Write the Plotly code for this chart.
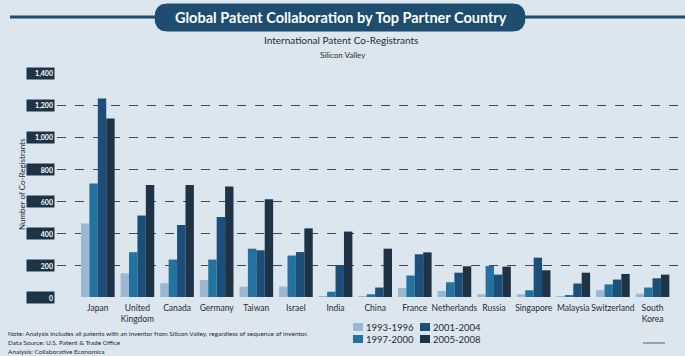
import plotly.graph_objects as go

countries = ["Japan", "United<br>Kingdom", "Canada", "Germany", "Taiwan", "Israel", "India", "China",
             "France", "Netherlands", "Russia", "Singapore", "Malaysia", "Switzerland", "South<br>Korea"]
periods = ["1993-1996", "1997-2000", "2001-2004", "2005-2008"]
v1993 = [460, 148, 86, 106, 65, 65, 4, 4, 56, 38, 17, 17, 3, 42, 21]
v1997 = [710, 280, 234, 234, 302, 259, 33, 17, 134, 92, 194, 42, 10, 79, 59]
v2001 = [1240, 509, 450, 500, 292, 281, 200, 59, 267, 152, 140, 246, 84, 109, 117]
v2005 = [1115, 700, 700, 690, 611, 429, 409, 302, 279, 192, 190, 167, 152, 144, 140]
series = [v1993, v1997, v2001, v2005]
colors = ["#9ab9d0", "#2472a0", "#1b4f79", "#1e3446"]
yticks = [0, 200, 400, 600, 800, 1000, 1200, 1400]
ytick_text = ["0", "200", "400", "600", "800", "1,000", "1,200", "1,400"]

W, H = 685, 356
L, R, T, B = 57, 0, 73, 59
pw = W - L - R
ph = H - T - B

def px2paper_x(px):
    return (px - L) / pw

def py2paper_y(py):
    return (H - B - py) / ph

FONT = "Lato"
TXT = "#1e2a36"
fig = go.Figure()
for i, (name, vals) in enumerate(zip(periods, series)):
    fig.add_trace(go.Bar(
        x=list(range(len(countries))), y=vals, name=name,
        marker=dict(color=colors[i], line=dict(width=0)),
    ))

fig.update_layout(
    width=W, height=H,
    margin=dict(l=L, r=R, t=T, b=B, autoexpand=False),
    paper_bgcolor="#dce6ee", plot_bgcolor="#dce6ee",
    barmode="group", bargap=0.15, bargroupgap=0,
    font=dict(family=FONT, color=TXT),
    showlegend=False,
    xaxis=dict(range=[-1.03, 14.82], tickvals=list(range(len(countries))), ticktext=countries,
               showgrid=False, zeroline=False, showline=False, ticks="", ticklabelstandoff=4,
               tickangle=0, automargin=False, tickfont=dict(size=8.5, color=TXT, family=FONT)),
    yaxis=dict(range=[0, 1400], tickvals=yticks, showticklabels=False, showgrid=True,
               gridcolor="#3a4a5a", griddash="dash", gridwidth=1, zeroline=False, showline=False),
)

# y tick label boxes
for v, t in zip(yticks, ytick_text):
    fig.add_annotation(xref="paper", yref="y", x=px2paper_x(55), y=v, xanchor="right", yanchor="middle",
                       text="<b>" + t + "</b>", showarrow=False, bgcolor="#1e3446", width=25, height=9,
                       align="right", borderpad=1, font=dict(size=7, color="white", family=FONT))

fig.add_annotation(xref="paper", yref="paper", x=px2paper_x(15), y=py2paper_y(184), text="Number of Co-Registrants",
                   textangle=-90, showarrow=False, font=dict(size=8, color=TXT, family=FONT))

# title banner
fig.add_shape(type="line", xref="paper", yref="paper", x0=px2paper_x(10), x1=px2paper_x(685),
              y0=py2paper_y(17), y1=py2paper_y(17), line=dict(color="#1e4d70", width=3), layer="below")
x0b, x1b, y0b, y1b, r = 155, 525, 4, 31, 12
path = (f"M {px2paper_x(x0b + r)},{py2paper_y(y0b)} L {px2paper_x(x1b - r)},{py2paper_y(y0b)} "
        f"Q {px2paper_x(x1b)},{py2paper_y(y0b)} {px2paper_x(x1b)},{py2paper_y((y0b + y1b) / 2)} "
        f"Q {px2paper_x(x1b)},{py2paper_y(y1b)} {px2paper_x(x1b - r)},{py2paper_y(y1b)} "
        f"L {px2paper_x(x0b + r)},{py2paper_y(y1b)} "
        f"Q {px2paper_x(x0b)},{py2paper_y(y1b)} {px2paper_x(x0b)},{py2paper_y((y0b + y1b) / 2)} "
        f"Q {px2paper_x(x0b)},{py2paper_y(y0b)} {px2paper_x(x0b + r)},{py2paper_y(y0b)} Z")
fig.add_shape(type="path", xref="paper", yref="paper", path=path, fillcolor="#1e4d70",
              line=dict(color="#1e4d70", width=1))
fig.add_annotation(xref="paper", yref="paper", x=px2paper_x(341), y=py2paper_y(17.5), yanchor="middle",
                   text="<b>Global Patent Collaboration by Top Partner Country</b>", showarrow=False,
                   font=dict(size=14.5, color="white", family=FONT))
fig.add_annotation(xref="paper", yref="paper", x=px2paper_x(341), y=py2paper_y(40.5), yanchor="middle",
                   text="International Patent Co-Registrants", showarrow=False,
                   font=dict(size=10, color=TXT, family=FONT))
fig.add_annotation(xref="paper", yref="paper", x=px2paper_x(343), y=py2paper_y(55), yanchor="middle",
                   text="Silicon Valley", showarrow=False,
                   font=dict(size=8, color=TXT, family=FONT))

# legend (swatches + labels)
leg_pos = [(353, 327), (353, 339), (420, 327), (420, 339)]
for (lx, ly), c, name in zip(leg_pos, colors, periods):
    fig.add_shape(type="rect", xref="paper", yref="paper",
                  x0=px2paper_x(lx), x1=px2paper_x(lx + 10), y0=py2paper_y(ly - 4), y1=py2paper_y(ly + 4),
                  fillcolor=c, line=dict(width=0))
    fig.add_annotation(xref="paper", yref="paper", x=px2paper_x(lx + 11), y=py2paper_y(ly), xanchor="left",
                       yanchor="middle", text=name, showarrow=False, font=dict(size=9.5, color=TXT, family=FONT))

notes = ["Note: Analysis includes all patents with an inventor from Silicon Valley, regardless of sequence of inventor.",
         "Data Source: U.S. Patent & Trade Office",
         "Analysis: Collaborative Economics"]
for i, n in enumerate(notes):
    fig.add_annotation(xref="paper", yref="paper", x=px2paper_x(6), y=py2paper_y(333 + i * 9),
                       xanchor="left", yanchor="middle", text=n, showarrow=False,
                       font=dict(size=6.5, color=TXT, family=FONT))

fig.add_shape(type="line", xref="paper", yref="paper", x0=px2paper_x(643), x1=px2paper_x(665),
              y0=py2paper_y(343), y1=py2paper_y(343), line=dict(color="#555f6a", width=1))

fig.write_html("out.html")
